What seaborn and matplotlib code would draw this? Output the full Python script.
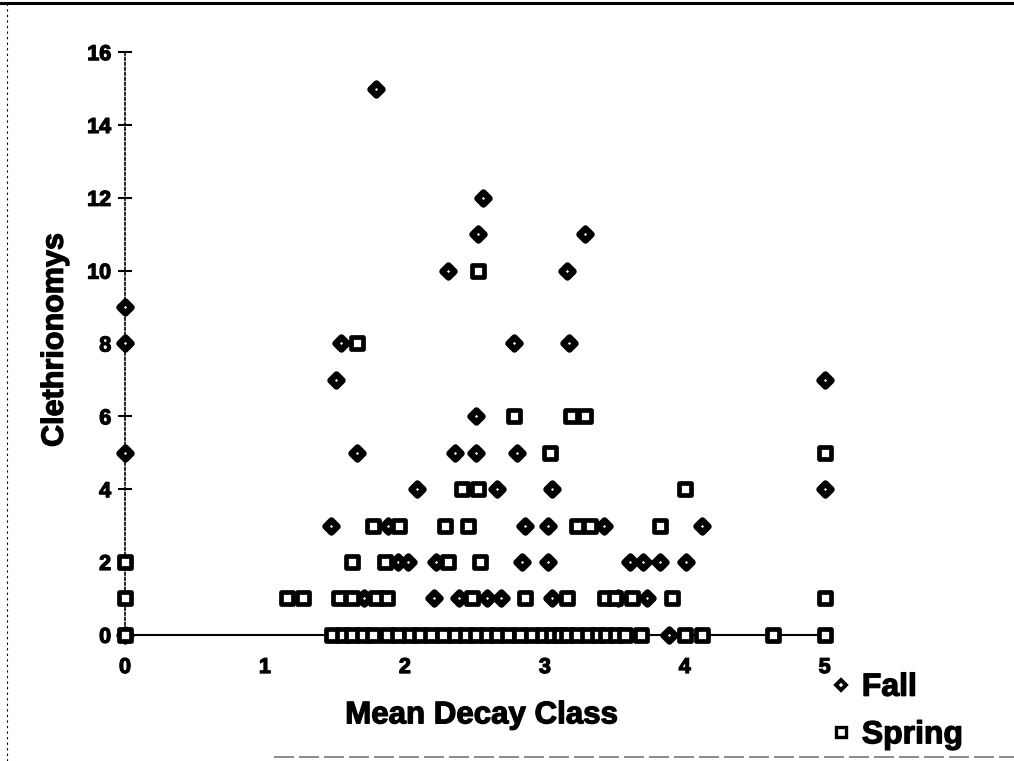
import matplotlib
matplotlib.use("Agg")
import matplotlib.pyplot as plt
from matplotlib.lines import Line2D
import matplotlib.patheffects as pe
import seaborn as sns
import pandas as pd

# Clethrionomys captures per plot against mean log decay class
fall_x = [0, 0, 0, 0,
          1.79, 2.56, 2.52, 3.29, 2.31, 3.16,
          1.54, 2.78, 3.17, 1.51, 5.0, 2.51,
          1.66, 2.36, 2.51, 2.80,
          2.09, 2.66, 3.05, 5.0,
          1.47, 1.88, 2.86, 3.02, 3.42, 4.12,
          1.95, 2.02, 2.22, 2.84, 3.02, 3.61, 3.70, 3.82, 4.01,
          1.71, 2.21, 2.39, 2.59, 2.69, 3.05, 3.52, 3.73,
          3.89]
fall_y = [9, 8, 5, 0,
          15, 12, 11, 11, 10, 10,
          8, 8, 8, 7, 7, 6,
          5, 5, 5, 5,
          4, 4, 4, 4,
          3, 3, 3, 3, 3, 3,
          2, 2, 2, 2, 2, 2, 2, 2, 2,
          1, 1, 1, 1, 1, 1, 1, 1,
          0]

spring_x = [2.52, 1.66,
            2.78, 3.19, 3.29,
            3.04, 5.0,
            2.41, 2.52, 4.0,
            1.77, 1.96, 2.29, 2.45, 3.23, 3.32, 3.82,
            0, 1.62, 1.86, 2.31, 2.54,
            0, 1.16, 1.27, 1.53, 1.62, 1.79, 1.87, 2.48, 2.86, 3.16,
            3.43, 3.50, 3.62, 3.91, 5.0,
            0, 1.48, 1.56, 1.62, 1.70, 1.77, 1.87, 1.95, 2.04, 2.11,
            2.19, 2.27, 2.36, 2.44, 2.51, 2.59, 2.66, 2.74, 2.82, 2.91,
            2.99, 3.05, 3.11, 3.16, 3.23, 3.31, 3.38, 3.44, 3.51, 3.57,
            3.69, 4.0, 4.12, 4.63, 5.0]
spring_y = [10, 8,
            6, 6, 6,
            5, 5,
            4, 4, 4,
            3, 3, 3, 3, 3, 3, 3,
            2, 2, 2, 2, 2,
            1, 1, 1, 1, 1, 1, 1, 1, 1, 1,
            1, 1, 1, 1, 1,
            0, 0, 0, 0, 0, 0, 0, 0, 0, 0,
            0, 0, 0, 0, 0, 0, 0, 0, 0, 0,
            0, 0, 0, 0, 0, 0, 0, 0, 0, 0,
            0, 0, 0, 0, 0]

y_ticks = [0, 2, 4, 6, 8, 10, 12, 14, 16]
x_ticks = [0, 1, 2, 3, 4, 5]
series_names = ["Fall", "Spring"]

fall = pd.DataFrame({"decay": fall_x, "voles": fall_y})
spring = pd.DataFrame({"decay": spring_x, "voles": spring_y})

sns.set_style("white")
plt.rcParams["font.family"] = ["Liberation Sans", "DejaVu Sans"]
plt.rcParams["font.weight"] = "bold"
for key in ("text.color", "axes.labelcolor", "xtick.color", "ytick.color"):
    plt.rcParams[key] = "black"

heavy = [pe.withStroke(linewidth=0.9, foreground="black")]

fig = plt.figure(figsize=(10.14, 7.61), dpi=100)
ax = fig.add_axes([0.0888, 0.1419, 0.759, 0.804])

sns.scatterplot(data=fall, x="decay", y="voles", ax=ax, marker="D", s=38,
                color="white", edgecolor="black", linewidth=4.6,
                clip_on=False, zorder=3, legend=False)
sns.scatterplot(data=spring, x="decay", y="voles", ax=ax, marker="s", s=68,
                color="white", edgecolor="black", linewidth=3.4,
                clip_on=False, zorder=3, legend=False)

ax.set_xlim(-0.25, 5.25)
ax.set_ylim(-0.5, 16.3)
ax.set_xticks(x_ticks)
ax.set_yticks(y_ticks)
ax.set_xlabel("")
ax.set_ylabel("")

for side in ("top", "right"):
    ax.spines[side].set_visible(False)
ax.spines["left"].set_position(("data", 0))
ax.spines["left"].set_bounds(0, 16)
ax.spines["left"].set_linestyle((0, (1.5, 1.5)))
ax.spines["left"].set_linewidth(1.2)
ax.spines["left"].set_color("black")
ax.spines["bottom"].set_position(("data", 0))
ax.spines["bottom"].set_bounds(0, 5)
ax.spines["bottom"].set_linewidth(1.5)
ax.spines["bottom"].set_color("black")

ax.tick_params(axis="y", direction="inout", length=10, width=1.5,
               pad=5, labelsize=15.5, left=True)
ax.tick_params(axis="x", length=0, pad=16, labelsize=15.5)
for lab in ax.get_xticklabels() + ax.get_yticklabels():
    lab.set_fontweight("bold")
    lab.set_path_effects(heavy)

fig.text(0.054, 0.553, "Clethrionomys", rotation=90, ha="center", va="center",
         fontsize=22, fontweight="bold", path_effects=heavy)
fig.text(0.475, 0.060, "Mean Decay Class", ha="center", va="center",
         fontsize=22.5, fontweight="bold", path_effects=heavy)

handles = [
    Line2D([], [], linestyle="none", marker="D", markersize=5,
           markerfacecolor="white", markeredgecolor="black", markeredgewidth=2.8),
    Line2D([], [], linestyle="none", marker="s", markersize=7,
           markerfacecolor="white", markeredgecolor="black", markeredgewidth=2.4),
]
leg = fig.legend(handles, series_names, loc="upper left",
                 bbox_to_anchor=(0.820, 0.116), frameon=False,
                 prop={"size": 23, "weight": "bold"}, handlelength=0.6,
                 handletextpad=0.35, labelspacing=0.55, borderpad=0,
                 borderaxespad=0)
for t in leg.get_texts():
    t.set_path_effects(heavy)

# page border lines
fig.add_artist(Line2D([0, 1], [0.996, 0.996], transform=fig.transFigure,
                      color="black", linewidth=2.2))
fig.add_artist(Line2D([0.007, 0.007], [0, 0.996], transform=fig.transFigure,
                      color="black", linewidth=0.8, linestyle=(0, (2, 3))))
fig.add_artist(Line2D([0.27, 1], [0.005, 0.005], transform=fig.transFigure,
                      color="#777777", linewidth=1.2, linestyle=(0, (12, 3))))

fig.savefig("out.png", dpi=100, facecolor="white")
